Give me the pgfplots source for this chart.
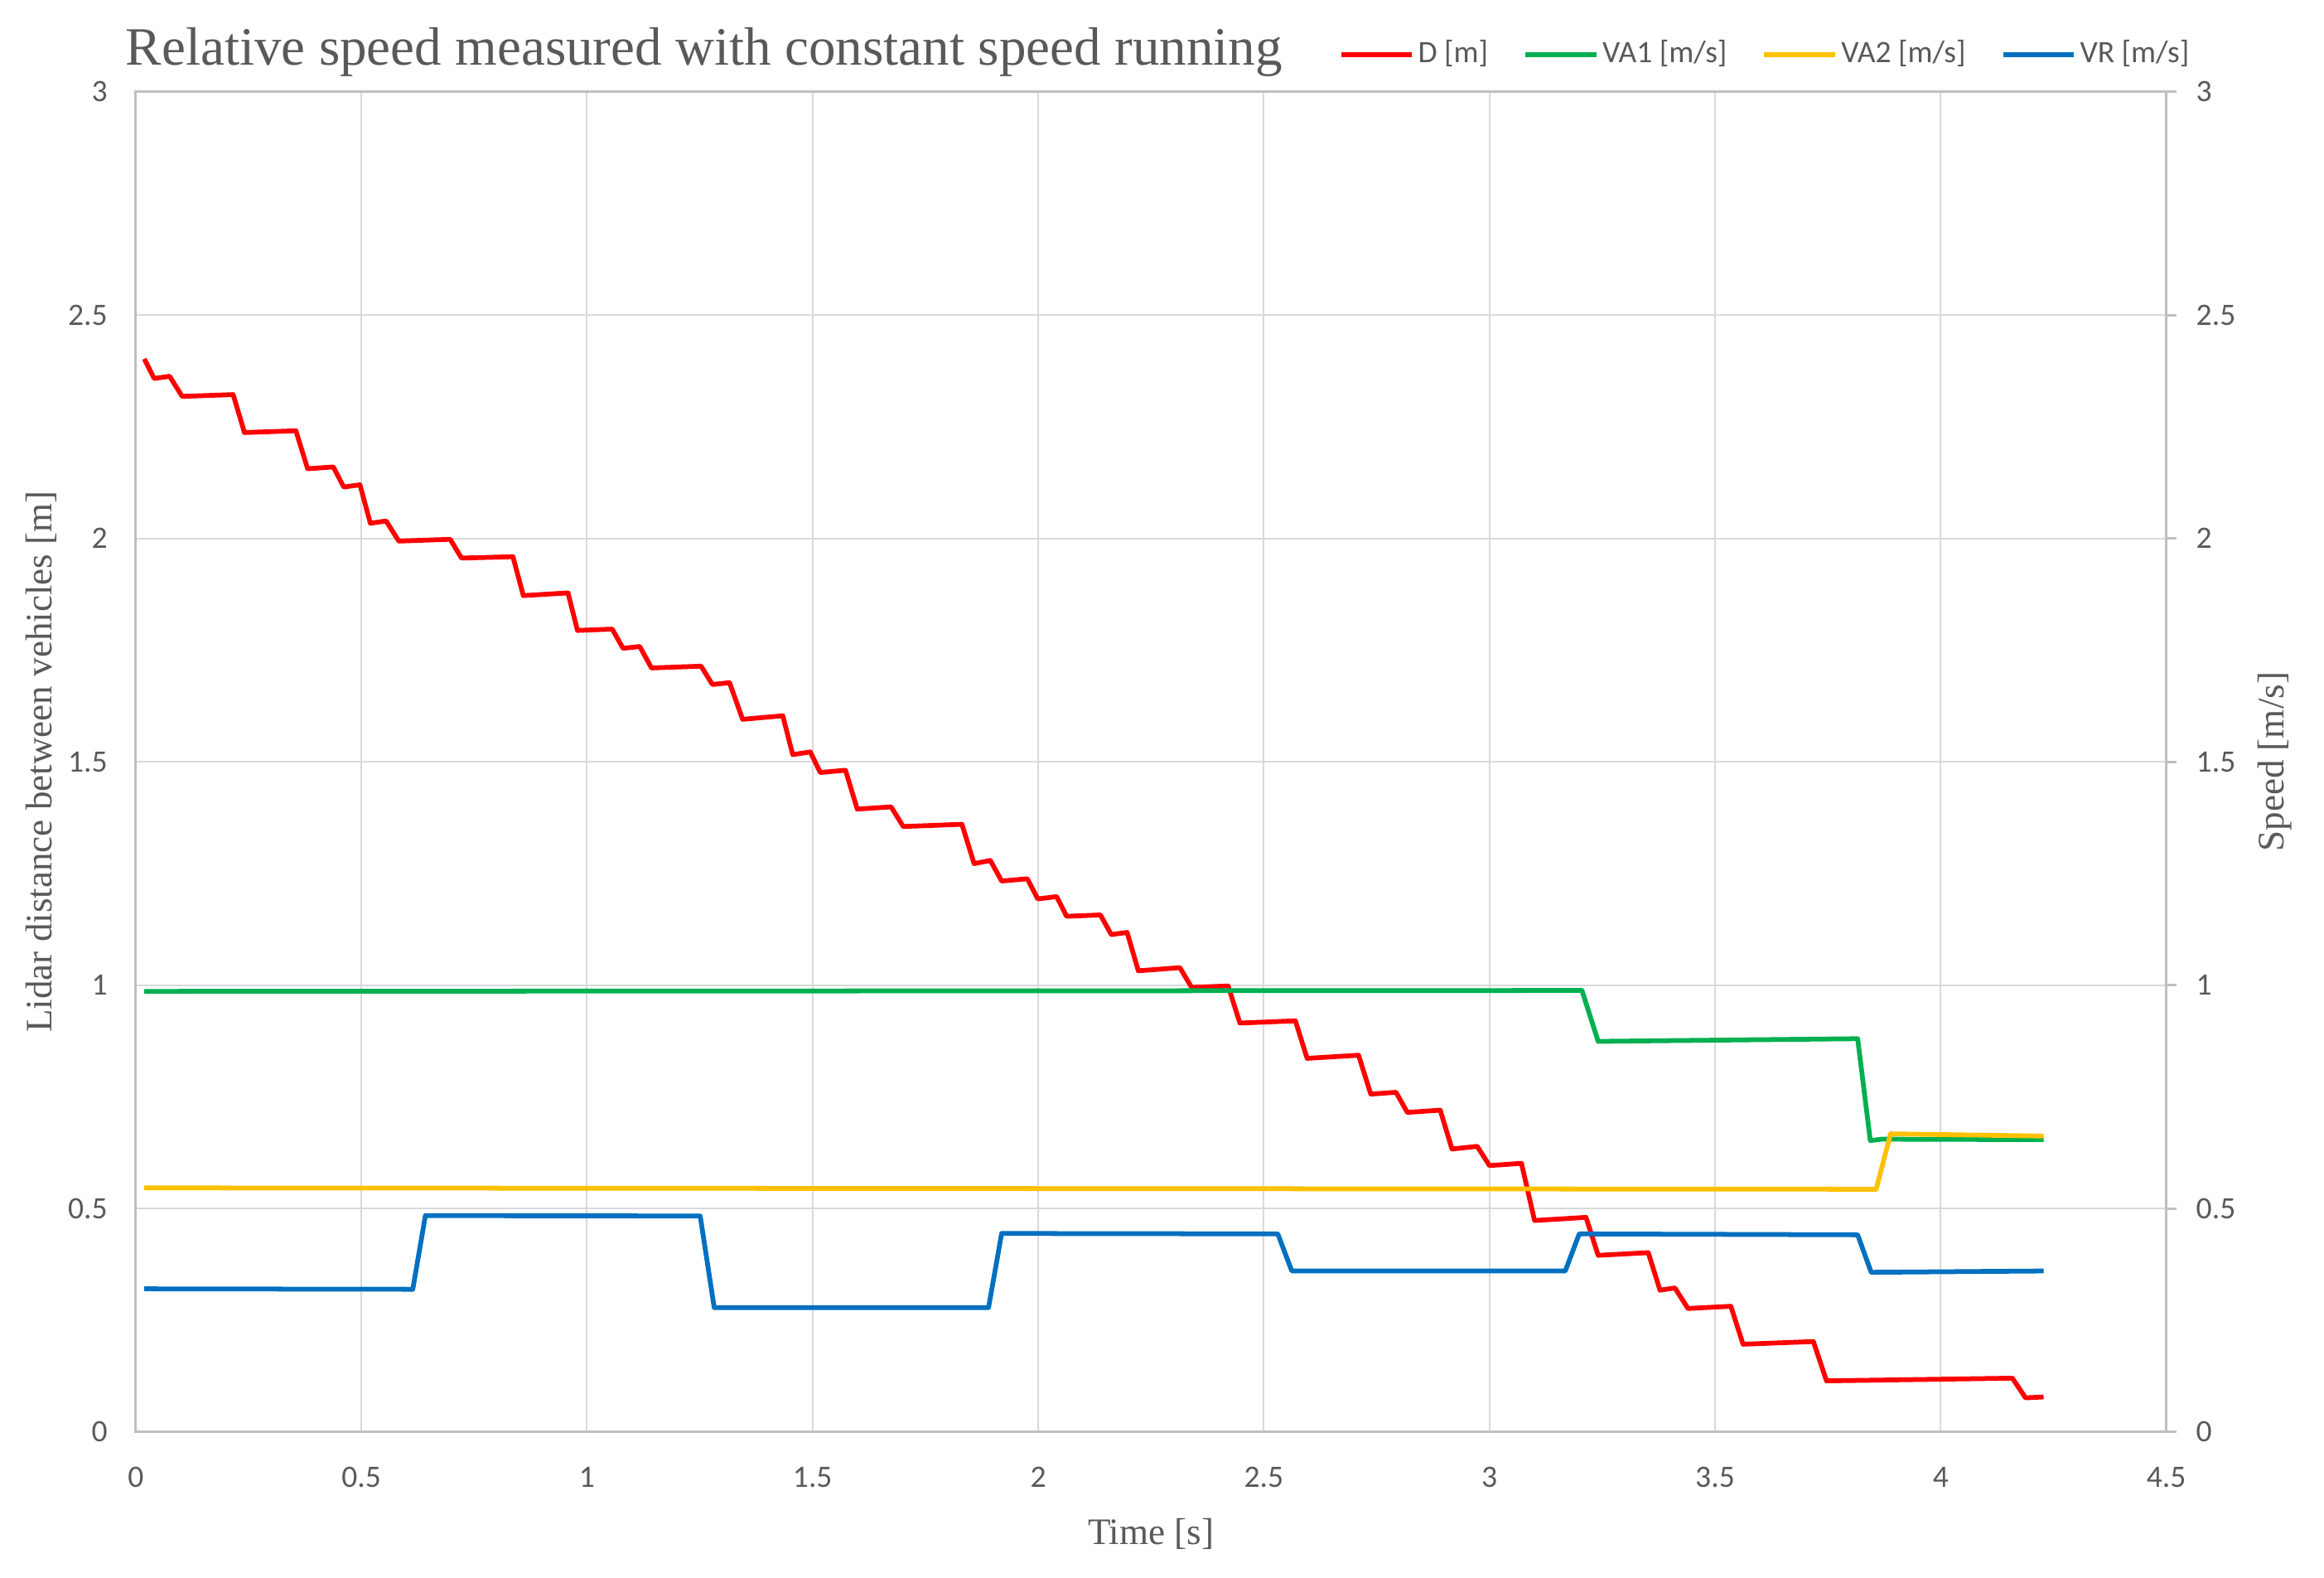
\documentclass[border=0pt]{standalone}
\usepackage{fontspec}
\setmainfont{Liberation Serif}
\newfontfamily\carlito{Carlito}
\usepackage{pgfplots}
\usepackage{pgfplotstable}
\pgfplotsset{compat=1.18}

\definecolor{txt}{HTML}{595959}
\definecolor{gridc}{HTML}{D9D9D9}
\definecolor{axc}{HTML}{BFBFBF}
\definecolor{cD}{HTML}{FF0000}
\definecolor{cVA1}{HTML}{00B050}
\definecolor{cVA2}{HTML}{FFC000}
\definecolor{cVR}{HTML}{0070C0}

% D [m] -- lidar distance
\pgfplotstableread{
t v
0.019 2.402
0.041 2.358
0.075 2.363
0.103 2.318
0.216 2.322
0.241 2.237
0.355 2.241
0.381 2.156
0.438 2.160
0.461 2.115
0.497 2.120
0.520 2.034
0.555 2.039
0.583 1.994
0.697 1.998
0.722 1.956
0.836 1.959
0.859 1.872
0.958 1.878
0.979 1.794
1.056 1.797
1.080 1.754
1.117 1.758
1.143 1.710
1.253 1.714
1.278 1.673
1.316 1.677
1.345 1.595
1.434 1.603
1.456 1.516
1.495 1.522
1.517 1.476
1.573 1.481
1.599 1.394
1.674 1.399
1.701 1.355
1.831 1.360
1.858 1.272
1.894 1.279
1.919 1.233
1.976 1.238
1.999 1.193
2.041 1.198
2.063 1.154
2.138 1.157
2.162 1.113
2.197 1.118
2.222 1.032
2.314 1.039
2.340 0.995
2.421 0.998
2.447 0.915
2.570 0.920
2.596 0.836
2.710 0.843
2.737 0.756
2.793 0.760
2.818 0.715
2.891 0.720
2.917 0.633
2.973 0.639
3.000 0.596
3.071 0.601
3.100 0.473
3.214 0.480
3.241 0.395
3.352 0.401
3.378 0.317
3.411 0.322
3.440 0.276
3.535 0.281
3.562 0.196
3.718 0.202
3.747 0.114
4.159 0.120
4.188 0.076
4.228 0.078
}\dataD

% VA1 [m/s]
\pgfplotstableread{
t v
0.019 0.986
3.205 0.988
3.241 0.874
3.816 0.880
3.844 0.652
3.870 0.655
4.228 0.654
}\dataVA

% VA2 [m/s]
\pgfplotstableread{
t v
0.019 0.546
3.857 0.543
3.889 0.667
4.228 0.662
}\dataVB

% VR [m/s]
\pgfplotstableread{
t v
0.019 0.320
0.614 0.319
0.642 0.484
1.251 0.483
1.282 0.278
1.890 0.278
1.919 0.444
2.531 0.443
2.562 0.360
3.168 0.360
3.199 0.443
3.816 0.441
3.846 0.357
4.228 0.360
}\dataVR

\begin{document}
\begin{tikzpicture}
\useasboundingbox (0,0) rectangle (560pt,380pt);

\pgfplotsset{
  base/.style={
    at={(32.7pt,35.1pt)}, anchor=south west,
    width=489.3pt, height=322.8pt, scale only axis,
    xmin=0, xmax=4.5, ymin=0, ymax=3,
    xtick={0,0.5,...,4.5}, ytick={0,0.5,...,3},
    tick label style={font=\carlito\fontsize{7.5}{9}\selectfont, text=txt, inner sep=0pt},
    /pgf/number format/assume math mode=true,
    label style={font=\fontsize{9}{11}\selectfont, text=txt},
    every axis plot/.append style={line width=1.15pt, line join=round},
  }
}

% primary axis: distance
\begin{axis}[base,
  axis line style={axc, line width=0.6pt},
  major tick length=0pt,
  xmajorgrids, ymajorgrids,
  major grid style={gridc, line width=0.4pt},
  xticklabel style={anchor=center, yshift=-10.9pt},
  yticklabel style={anchor=east, xshift=-6.6pt},
  xlabel={Time [s]},
  xlabel style={at={(axis description cs:0.5,-0.0765)}, anchor=center},
  ylabel={Lidar distance between vehicles [m]},
  ylabel style={at={(axis description cs:-0.0464,0.5)}, anchor=center},
]
\addplot[cD, no marks] table[x=t, y=v] {\dataD};
\end{axis}

% secondary axis: speeds
\begin{axis}[base,
  hide x axis,
  axis y line*=right,
  axis line style={axc, line width=0.6pt},
  tick align=outside,
  major tick length=2.4pt,
  ytick style={axc, line width=0.6pt},
  yticklabel style={anchor=west, xshift=4.6pt},
  ylabel={Speed [m/s]},
  ylabel style={at={(axis description cs:1.0535,0.5)}, anchor=center},
  legend columns=4,
  legend style={
    at={(1.0129,1.0276)}, anchor=east,
    draw=none, fill=none, inner sep=0pt,
    font=\carlito\fontsize{7.5}{9}\selectfont, text=txt,
    nodes={inner sep=0.6pt},
    column sep=0.3pt,
    /tikz/every even column/.append style={column sep=7.8pt},
  },
]
\addlegendimage{cD, line width=1.15pt}
\addlegendentry{D [m]}
\addplot[cVA1, no marks] table[x=t, y=v] {\dataVA};
\addlegendentry{VA1 [m/s]}
\addplot[cVA2, no marks] table[x=t, y=v] {\dataVB};
\addlegendentry{VA2 [m/s]}
\addplot[cVR, no marks] table[x=t, y=v] {\dataVR};
\addlegendentry{VR [m/s]}
\end{axis}

\node[anchor=base west, inner sep=0pt, text=txt, font=\fontsize{13}{15}\selectfont]
  at (30.1pt,364.4pt) {Relative speed measured with constant speed running};
\end{tikzpicture}
\end{document}
